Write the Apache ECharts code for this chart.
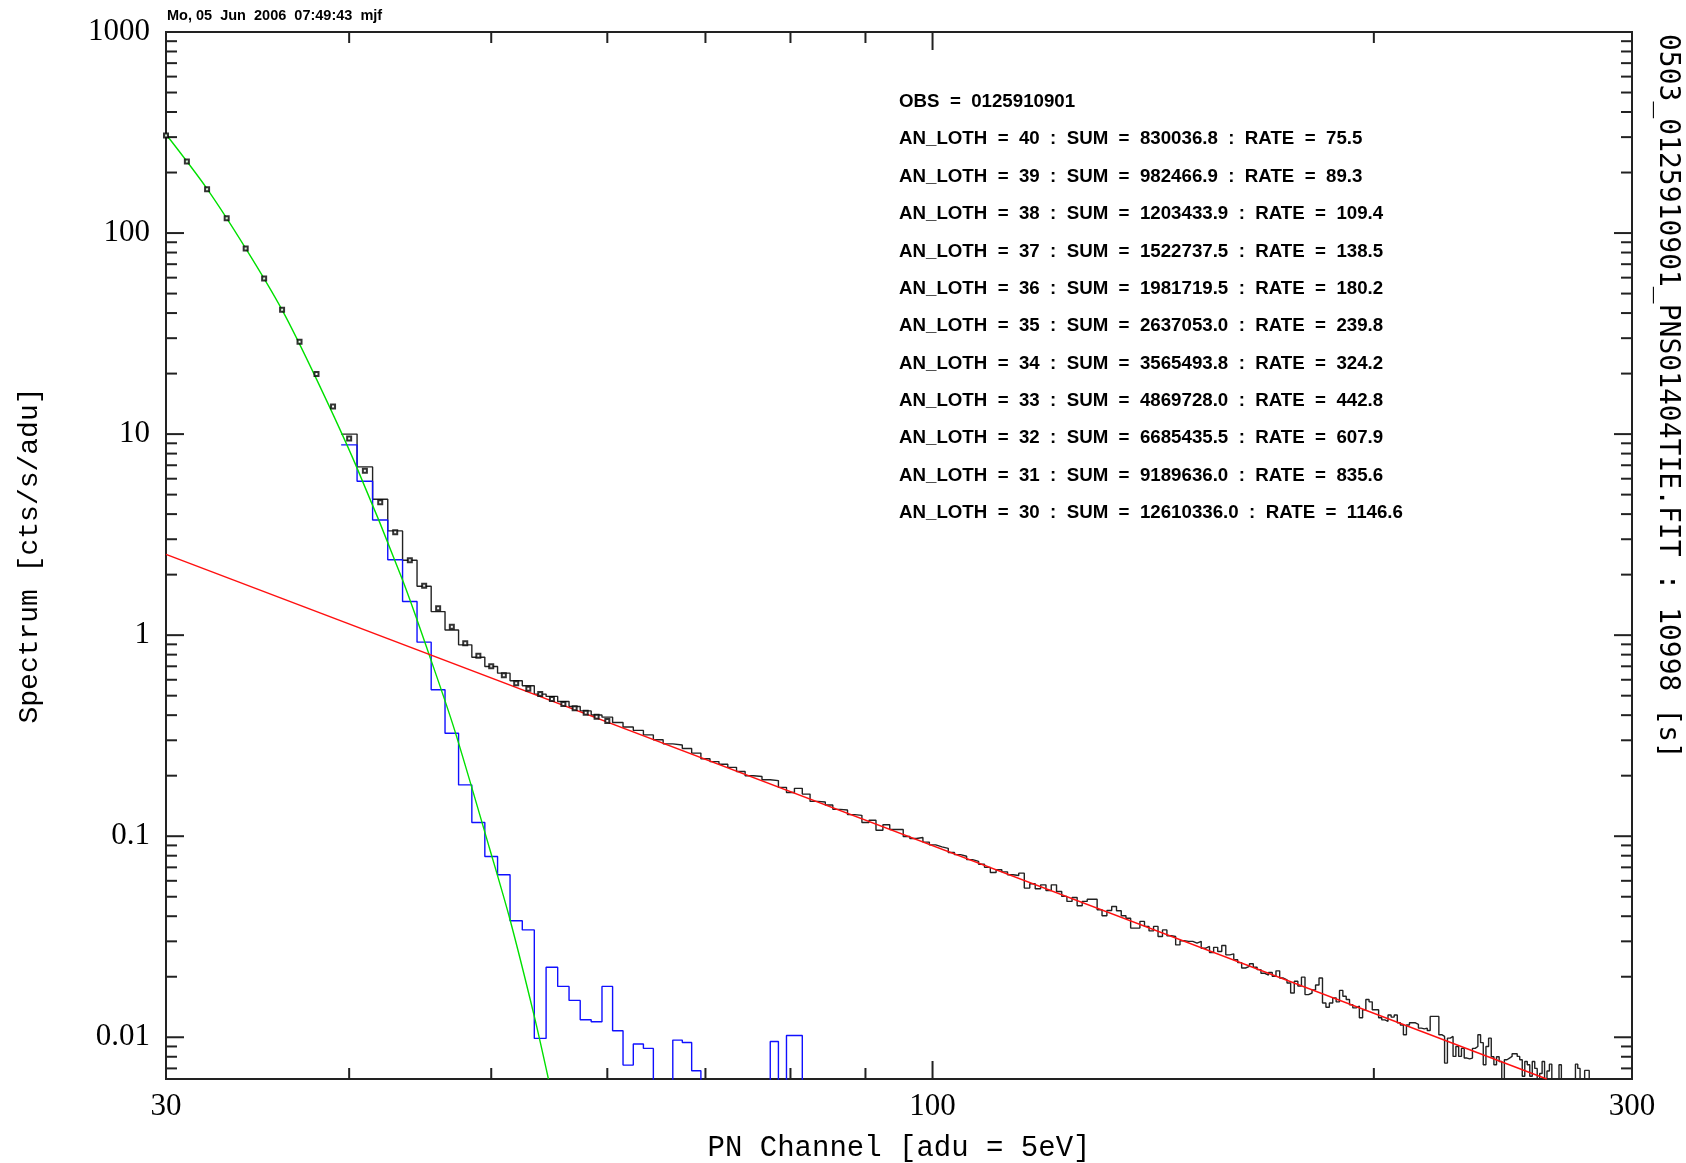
<!DOCTYPE html>
<html>
<head>
<meta charset="utf-8">
<script src="https://cdn.jsdelivr.net/npm/echarts@6/dist/echarts.min.js"></script>
<style>
  html, body { margin: 0; padding: 0; background: #fff; }
  #main { width: 1686px; height: 1163px; }
</style>
</head>
<body>
<div id="main"></div>
<script>
// axis ranges (log-log)
const X_MIN = 30, X_MAX = 300
const Y_MIN = 0.0062, Y_MAX = 1000

// spectrum histogram, one value per PN channel, starting at channel 40
// (0.005 = below the frame)
const blackFirst = 40
const blackValues = [
  10.0, 6.87, 4.74, 3.30, 2.36, 1.75, 1.31, 1.06, 0.895, 0.776,
  0.698, 0.647, 0.593, 0.560, 0.509, 0.496, 0.468, 0.442, 0.420, 0.401,
  0.391, 0.368, 0.349, 0.336, 0.319, 0.302, 0.288, 0.284, 0.273, 0.259,
  0.243, 0.235, 0.228, 0.220, 0.210, 0.200, 0.198, 0.191, 0.189, 0.175,
  0.165, 0.173, 0.162, 0.149, 0.148, 0.143, 0.136, 0.135, 0.128, 0.127,
  0.117, 0.120, 0.107, 0.114, 0.108, 0.108, 0.0997, 0.0974, 0.0986, 0.0935,
  0.0905, 0.0885, 0.0870, 0.0830, 0.0810, 0.0795, 0.0765, 0.0750, 0.0725, 0.0700,
  0.0660, 0.0681, 0.0665, 0.0643, 0.0638, 0.0655, 0.0552, 0.0580, 0.0548, 0.0573,
  0.0537, 0.0573, 0.0531, 0.0502, 0.0474, 0.0496, 0.0451, 0.0474, 0.0486, 0.0486,
  0.0431, 0.0402, 0.0427, 0.0447, 0.0426, 0.0402, 0.0391, 0.0349, 0.0349, 0.0377,
  0.0356, 0.0338, 0.0356, 0.0317, 0.0342, 0.0320, 0.0317, 0.0288, 0.0302, 0.0300,
  0.0300, 0.0294, 0.0300, 0.0277, 0.0283, 0.0264, 0.0280, 0.0267, 0.0286, 0.0257,
  0.0260, 0.0243, 0.0235, 0.0221, 0.0225, 0.0232, 0.0223, 0.0217, 0.0208, 0.0204,
  0.0210, 0.0201, 0.0214, 0.0197, 0.0193, 0.0186, 0.0166, 0.0190, 0.0180, 0.0199,
  0.0163, 0.0166, 0.0172, 0.0182, 0.0197, 0.0148, 0.0141, 0.0148, 0.0157, 0.0150,
  0.0171, 0.0160, 0.0154, 0.0145, 0.0140, 0.0143, 0.0125, 0.0137, 0.0154, 0.0150,
  0.0137, 0.0137, 0.0125, 0.0122, 0.0120, 0.0129, 0.0126, 0.0129, 0.0118, 0.0115,
  0.0103, 0.0115, 0.0118, 0.0118, 0.0116, 0.0111, 0.0110, 0.0111, 0.0108, 0.0127,
  0.0127, 0.0127, 0.0103, 0.0101, 0.00744, 0.0099, 0.0101, 0.00803, 0.0090, 0.00803,
  0.0088, 0.00788, 0.00780, 0.00788, 0.0088, 0.0090, 0.0103, 0.0094, 0.0073, 0.0090,
  0.0099, 0.0080, 0.0073, 0.0080, 0.00758, 0.005, 0.00773, 0.00788, 0.00803, 0.00828,
  0.00828, 0.00803, 0.00773, 0.0064, 0.00758, 0.0073, 0.0064, 0.00758, 0.0070, 0.005,
  0.0066, 0.00758, 0.005, 0.0068, 0.00735, 0.005, 0.005, 0.005, 0.0073, 0.005,
  0.005, 0.005, 0.005, 0.005, 0.005, 0.00735, 0.0070, 0.005, 0.005, 0.00684,
  0.00684, 0.005, 0.005
]

// second (blue) histogram, starting at channel 40
const blueFirst = 40
const blueValues = [
  8.84, 5.83, 3.74, 2.37, 1.47, 0.923, 0.535, 0.325, 0.180, 0.117,
  0.0793, 0.0643, 0.0380, 0.0342, 0.00987, 0.0223, 0.0179, 0.01525, 0.01222, 0.01194,
  0.0179, 0.01077, 0.00727, 0.00925, 0.00880, 0.005, 0.005, 0.00968, 0.00942, 0.00681,
  0.005, 0.005, 0.005, 0.005, 0.005, 0.005, 0.005, 0.005, 0.00953, 0.005,
  0.0102, 0.0102, 0.005
]

// small open squares, channels 30..60
const dotFirst = 30
const dotValues = [
  306, 227, 165, 118.5, 83.9, 59.5, 41.6, 28.8, 19.9, 13.7,
  9.50, 6.58, 4.58, 3.25, 2.36, 1.76, 1.36, 1.10, 0.912, 0.789,
  0.701, 0.632, 0.577, 0.541, 0.509, 0.481, 0.455, 0.433, 0.411, 0.393,
  0.374
]

// green model curve (read points)
const greenCurve = [
  [30, 310], [32, 166], [34, 84], [36, 41.5], [38.02, 18.6], [40.46, 6.89],
  [43.5, 1.88], [45.4, 0.783], [47.2, 0.338], [49.9, 0.0856], [51.5, 0.0384],
  [53.5, 0.0127], [54.7, 0.0062]
]

// red power law
const redLine = [[30, 2.52], [262.4, 0.0062]]

// ticks
const xMajorTicks = [30, 100, 300]
const xTickLabels = ['30', '100', '300']
const xMinorTicks = [40, 50, 60, 70, 80, 90, 200]
const yMajorTicks = [0.01, 0.1, 1, 10, 100, 1000]
const yTickLabels = ['0.01', '0.1', '1', '10', '100', '1000']
const yMinorTicks = []
;[0.001, 0.01, 0.1, 1, 10, 100].forEach(d => {
  for (let k = 2; k <= 9; k++) {
    const v = d * k
    if (v > Y_MIN && v < Y_MAX) yMinorTicks.push(v)
  }
})

// annotation block
const obsText = 'OBS  =  0125910901'
const anLoth = [40, 39, 38, 37, 36, 35, 34, 33, 32, 31, 30]
const sums = ['830036.8', '982466.9', '1203433.9', '1522737.5', '1981719.5', '2637053.0',
  '3565493.8', '4869728.0', '6685435.5', '9189636.0', '12610336.0']
const rates = ['75.5', '89.3', '109.4', '138.5', '180.2', '239.8', '324.2', '442.8',
  '607.9', '835.6', '1146.6']

const toSteps = (first, vals) => {
  const pts = vals.map((v, i) => [first + i - 0.5, v])
  pts.push([first + vals.length - 0.5, vals[vals.length - 1]])
  return pts
}

const labelFor = (ticks, labels) => v => {
  const i = ticks.findIndex(t => Math.abs(Math.log10(v / t)) < 1e-6)
  return i < 0 ? '' : labels[i]
}

const tickStyle = {stroke: '#222', lineWidth: 2}

const tickSeries = (values, isX, len) => ({
  type: 'custom',
  silent: true,
  z: 6,
  data: values.map(v => isX ? [v, Y_MIN] : [X_MIN, v]),
  renderItem(params, api) {
    if (isX) {
      const v = api.value(0)
      const b = api.coord([v, Y_MIN])
      const t = api.coord([v, Y_MAX])
      return {
        type: 'group', children: [
          {type: 'line', shape: {x1: b[0], y1: b[1], x2: b[0], y2: b[1] - len}, style: tickStyle},
          {type: 'line', shape: {x1: t[0], y1: t[1], x2: t[0], y2: t[1] + len}, style: tickStyle}
        ]
      }
    }
    const v = api.value(1)
    const l = api.coord([X_MIN, v])
    const r = api.coord([X_MAX, v])
    return {
      type: 'group', children: [
        {type: 'line', shape: {x1: l[0], y1: l[1], x2: l[0] + len, y2: l[1]}, style: tickStyle},
        {type: 'line', shape: {x1: r[0], y1: r[1], x2: r[0] - len, y2: r[1]}, style: tickStyle}
      ]
    }
  }
})

const annoFont = 'bold 18.7px "Liberation Sans"'
const annotation = [{
  type: 'text', x: 899, y: 102,
  style: {text: obsText, font: annoFont, fill: '#000', textAlign: 'left', textVerticalAlign: 'middle'}
}]
anLoth.forEach((n, i) => {
  annotation.push({
    type: 'text', x: 899, y: 102 + 37.35 * (i + 1),
    style: {
      text: `AN_LOTH  =  ${n}  :  SUM  =  ${sums[i]}  :  RATE  =  ${rates[i]}`,
      font: annoFont, fill: '#000', textAlign: 'left', textVerticalAlign: 'middle'
    }
  })
})

const chart = echarts.init(document.getElementById('main'))
chart.setOption({
  animation: false,
  backgroundColor: '#fff',
  grid: {
    left: 166, top: 32, width: 1466, height: 1047,
    show: true, borderColor: '#222', borderWidth: 2,
    outerBoundsMode: 'none'
  },
  xAxis: {
    type: 'log',
    logBase: 10,
    min: X_MIN,
    max: X_MAX,
    name: 'PN Channel [adu = 5eV]',
    nameLocation: 'middle',
    nameGap: 55,
    nameTextStyle: {fontFamily: 'Liberation Mono', fontSize: 29, color: '#000'},
    axisLine: {show: false},
    axisTick: {show: false},
    splitLine: {show: false},
    axisLabel: {
      margin: 12,
      fontFamily: 'Liberation Serif', fontSize: 31, color: '#000',
      formatter: labelFor(xMajorTicks, xTickLabels)
    }
  },
  yAxis: {
    type: 'log',
    logBase: 10,
    min: Y_MIN,
    max: Y_MAX,
    name: 'Spectrum [cts/s/adu]',
    nameLocation: 'middle',
    nameRotate: 90,
    nameGap: 122,
    nameTextStyle: {fontFamily: 'Liberation Mono', fontSize: 28, color: '#000'},
    axisLine: {show: false},
    axisTick: {show: false},
    splitLine: {show: false},
    axisLabel: {
      margin: 16,
      fontFamily: 'Liberation Serif', fontSize: 31, color: '#000',
      formatter: labelFor(yMajorTicks, yTickLabels)
    }
  },
  graphic: [
    {
      type: 'text', x: 167, y: 16,
      style: {text: 'Mo, 05  Jun  2006  07:49:43  mjf', font: 'bold 14.5px "Liberation Sans"', fill: '#000', textAlign: 'left', textVerticalAlign: 'middle'}
    },
    {
      type: 'text', x: 1667, y: 34, rotation: -Math.PI / 2,
      style: {text: '0503_0125910901_PNS01404TIE.FIT : 10998 [s]', font: '28px "DejaVu Sans Mono"', fill: '#000', textAlign: 'left', textVerticalAlign: 'middle'}
    },
    ...annotation
  ],
  series: [
    {
      name: 'spectrum',
      type: 'line',
      step: 'end',
      data: toSteps(blackFirst, blackValues),
      showSymbol: false,
      clip: true,
      lineStyle: {color: '#222', width: 1.4},
      z: 2
    },
    {
      name: 'blue',
      type: 'line',
      step: 'end',
      data: toSteps(blueFirst, blueValues),
      showSymbol: false,
      clip: true,
      lineStyle: {color: '#1010ff', width: 1.4},
      z: 3
    },
    {
      name: 'green',
      type: 'line',
      data: greenCurve,
      smooth: 0.3,
      showSymbol: false,
      clip: true,
      lineStyle: {color: '#00e000', width: 1.4},
      z: 4
    },
    {
      name: 'red',
      type: 'line',
      data: redLine,
      showSymbol: false,
      clip: true,
      lineStyle: {color: '#ff1010', width: 1.4},
      z: 4
    },
    {
      name: 'points',
      type: 'scatter',
      data: dotValues.map((v, i) => [dotFirst + i, v]),
      symbol: 'emptyRect',
      symbolSize: 4,
      itemStyle: {color: '#000', borderWidth: 1},
      z: 7
    },
    tickSeries(xMajorTicks, true, 18),
    tickSeries(xMinorTicks, true, 11),
    tickSeries(yMajorTicks, false, 18),
    tickSeries(yMinorTicks, false, 11)
  ]
})
</script>
</body>
</html>
